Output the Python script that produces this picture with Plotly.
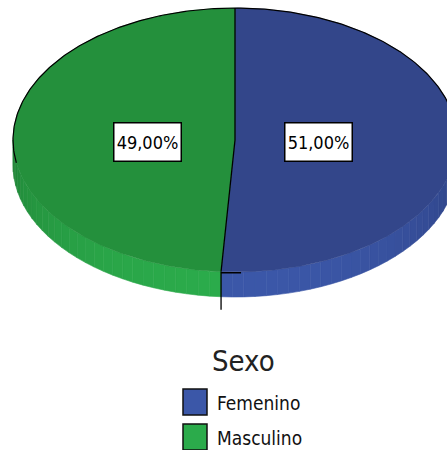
import numpy as np
import plotly.graph_objects as go

# ---- data ----
categories = ["Femenino", "Masculino"]
values = [51.0, 49.0]
legend_title = "Sexo"
top_colors = ["#33468a", "#24903c"]
wall_light = ["#3b57a8", "#2bab4b"]
wall_dark = ["#2b3d7c", "#1f8035"]

# ---- geometry of the 3D ellipse pie (pixel-like data units) ----
CX, CY, A, B, DEPTH = 235.0, 140.0, 222.0, 132.0, 25.0
FONT = "DejaVu Sans Condensed, DejaVu Sans, sans-serif"


def pt(theta_deg, dy=0.0, r=1.0):
    t = np.radians(theta_deg)
    return CX + r * A * np.sin(t), CY - r * B * np.cos(t) + dy


def lerp_color(c1, c2, f):
    a = [int(c1[i:i + 2], 16) for i in (1, 3, 5)]
    b = [int(c2[i:i + 2], 16) for i in (1, 3, 5)]
    c = [round(a[k] + (b[k] - a[k]) * f) for k in range(3)]
    return "rgb(%d,%d,%d)" % tuple(c)


total = sum(values)
bounds = []
start = 0.0
for v in values:
    end = start + 360.0 * v / total
    bounds.append((start, end))
    start = end

fig = go.Figure()

# side walls (front half only), drawn as gradient strips
for i, (s, e) in enumerate(bounds):
    lo, hi = max(s, 90.0), min(e, 270.0)
    if hi <= lo:
        continue
    edges = np.linspace(lo, hi, int((hi - lo) / 3) + 2)
    for a0, a1 in zip(edges[:-1], edges[1:]):
        th = np.linspace(a0, a1, 4)
        xs_t, ys_t = pt(th)
        xs_b, ys_b = pt(th[::-1], DEPTH)
        xs = np.concatenate([xs_t, xs_b, xs_t[:1]])
        ys = np.concatenate([ys_t, ys_b, ys_t[:1]])
        mid = (a0 + a1) / 2
        f = max(0.0, -np.cos(np.radians(mid)))
        col = lerp_color(wall_dark[i], wall_light[i], f ** 0.8)
        fig.add_trace(go.Scatter(x=xs, y=ys, mode="lines", fill="toself",
                                 fillcolor=col, line=dict(color=col, width=0.6),
                                 hoverinfo="skip", showlegend=False))

# top faces
for i, (s, e) in enumerate(bounds):
    th = np.linspace(s, e, 240)
    xs, ys = pt(th)
    xs = np.concatenate([[CX], xs, [CX]])
    ys = np.concatenate([[CY], ys, [CY]])
    fig.add_trace(go.Scatter(x=xs, y=ys, mode="lines", fill="toself",
                             fillcolor=top_colors[i],
                             line=dict(color=top_colors[i], width=0.5),
                             name=categories[i], hoverinfo="skip", showlegend=False))

# outline of back edge
th = np.linspace(-100, 105, 300)
xo, yo = pt(th)
fig.add_trace(go.Scatter(x=xo, y=yo, mode="lines", line=dict(color="black", width=1.2),
                         hoverinfo="skip", showlegend=False))
# slice borders (radii)
for s, e in bounds:
    x0, y0 = pt(s)
    fig.add_trace(go.Scatter(x=[CX, x0], y=[CY, y0], mode="lines",
                             line=dict(color="black", width=1.3),
                             hoverinfo="skip", showlegend=False))

# leader line below the pie at the second boundary
xb, yb = pt(bounds[0][1])
fig.add_trace(go.Scatter(x=[xb + 20, xb, xb], y=[yb + 1, yb + 1, yb + 38], mode="lines",
                         line=dict(color="black", width=1.3),
                         hoverinfo="skip", showlegend=False))

# percentage labels
for i, (s, e) in enumerate(bounds):
    lx, _ = pt((s + e) / 2, r=0.385)
    txt = ("%.2f%%" % (100 * values[i] / total)).replace(".", ",")
    fig.add_annotation(x=lx - 2, y=CY + 2, xref="x", yref="y", text=txt, showarrow=False,
                       font=dict(family=FONT, size=18, color="black"),
                       bgcolor="white", bordercolor="black", borderwidth=1.5,
                       width=64, height=35, align="center", valign="middle")

# legend (manual)
fig.add_annotation(x=243, y=361, xref="x", yref="y", text=legend_title, showarrow=False,
                   font=dict(family=FONT, size=29, color="#222222"))
for i, name in enumerate(categories):
    y0 = 389 + i * 35
    fig.add_shape(type="rect", x0=183, x1=207, y0=y0, y1=y0 + 26, xref="x", yref="y",
                  fillcolor=wall_light[i], line=dict(color="#111111", width=1.5))
    fig.add_annotation(x=215, y=y0 + 14, xref="x", yref="y", text=name, showarrow=False,
                       xanchor="left",
                       font=dict(family=FONT, size=19, color="#111111"))

fig.update_xaxes(range=[0, 447], visible=False, fixedrange=True)
fig.update_yaxes(range=[450, 0], visible=False, fixedrange=True)
fig.update_layout(width=447, height=450, margin=dict(l=0, r=0, t=0, b=0),
                  paper_bgcolor="white", plot_bgcolor="white", showlegend=False)

post = ("document.body.style.margin='0px';document.body.style.overflow='hidden';"
        "var st=document.createElement('style');"
        "st.textContent='.annotation-text{font-stretch:condensed;}';"
        "document.head.appendChild(st);")
fig.write_html("out.html", config={"displayModeBar": False}, post_script=post)
